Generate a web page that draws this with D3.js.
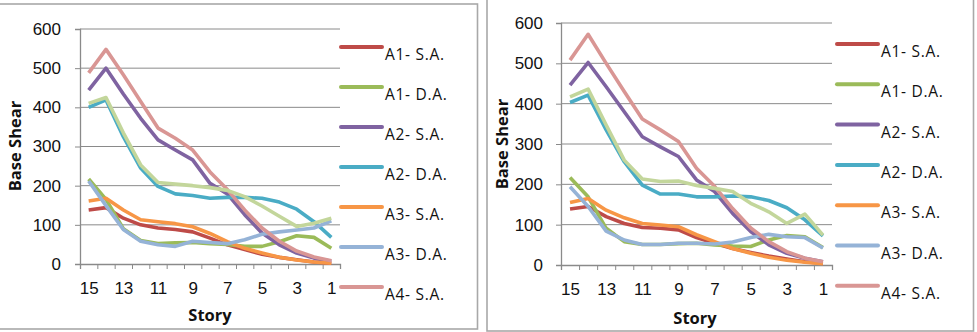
<!DOCTYPE html>
<html>
<head>
<meta charset="utf-8">
<script src="https://cdn.jsdelivr.net/npm/d3@7"></script>
<style>
  body { margin: 0; background: #fff; }
  svg { display: block; font-family: "Open Sans", sans-serif; }
</style>
</head>
<body>
<svg id="chart" width="977" height="332"></svg>
<script>
// stories, top to bottom as on the x axis
const stories = [15, 14, 13, 12, 11, 10, 9, 8, 7, 6, 5, 4, 3, 2, 1];
const yTicks = [0, 100, 200, 300, 400, 500, 600];
const seriesNames = ["A1- S.A.", "A1- D.A.", "A2- S.A.", "A2- D.A.", "A3- S.A.", "A3- D.A.", "A4- S.A.", "A4- D.A."];
const seriesColors = ["#be4b48", "#9bbb59", "#7f63a1", "#4aacc5", "#f79646", "#95b3d7", "#d99694", "#c3d69b"];

// left panel
const a1saL = [138, 144, 117, 100, 92, 88, 82, 66, 49, 37, 25, 17, 11, 5, 2];
const a1daL = [217, 165, 90, 60, 52, 54, 55, 52, 50, 45, 45, 57, 72, 68, 40];
const a2saL = [444, 500, 434, 372, 317, 291, 266, 206, 179, 126, 79, 49, 28, 15, 7];
const a2daL = [400, 419, 325, 245, 198, 179, 175, 168, 170, 170, 168, 158, 140, 108, 68];
const a3saL = [161, 168, 138, 113, 108, 103, 95, 78, 57, 40, 28, 17, 10, 5, 2];
const a3daL = [212, 149, 88, 58, 49, 45, 58, 55, 52, 62, 76, 82, 87, 92, 110];
const a4saL = [488, 548, 483, 415, 347, 321, 291, 235, 190, 138, 92, 58, 33, 18, 8];
const a4daL = [410, 425, 335, 253, 208, 204, 200, 195, 188, 172, 148, 122, 96, 104, 117];

// right panel
const a1saR = [139, 145, 120, 103, 93, 91, 87, 68, 54, 41, 31, 22, 15, 8, 4];
const a1daR = [217, 169, 91, 58, 51, 51, 53, 54, 50, 47, 46, 62, 73, 70, 43];
const a2saR = [446, 502, 442, 380, 318, 293, 269, 211, 182, 128, 83, 50, 29, 17, 8];
const a2daR = [403, 421, 335, 256, 198, 176, 176, 169, 169, 171, 169, 160, 142, 112, 72];
const a3saR = [155, 165, 136, 117, 103, 99, 95, 75, 58, 41, 29, 19, 12, 7, 3];
const a3daR = [194, 145, 84, 62, 51, 51, 54, 54, 52, 57, 68, 76, 70, 68, 42];
const a4saR = [508, 572, 500, 430, 362, 335, 306, 240, 195, 140, 92, 58, 33, 17, 8];
const a4daR = [417, 436, 347, 260, 213, 207, 208, 197, 190, 182, 153, 132, 103, 126, 74];

const svg = d3.select("#chart");

function drawPanel(panel) {
  const g = svg.append("g");

  g.append("rect")
    .attr("x", panel.frame[0]).attr("y", panel.frame[1])
    .attr("width", panel.frame[2]).attr("height", panel.frame[3])
    .attr("fill", "#fff")
    .attr("stroke", "#a8a8a8")
    .attr("stroke-width", 1.6);

  const x = d3.scalePoint().domain(stories).range([panel.left + panel.band / 2, panel.right - panel.band / 2]);
  const xEdge = d3.scaleLinear().domain([0, stories.length]).range([panel.left, panel.right]);
  const y = d3.scaleLinear().domain([0, 600]).range([panel.bottom, panel.top]);

  // gridlines
  g.append("g")
    .selectAll("line")
    .data(yTicks.slice(1))
    .enter()
      .append("line")
      .attr("x1", panel.left).attr("x2", panel.right)
      .attr("y1", d => y(d)).attr("y2", d => y(d))
      .attr("stroke", "#8a8a8a")
      .attr("stroke-width", 1);

  // y axis
  const yAxis = g.append("g")
    .attr("transform", `translate(${panel.left},0)`)
    .call(d3.axisLeft(y).tickValues(yTicks).tickSize(5).tickPadding(panel.yPad));
  yAxis.select(".domain").attr("stroke", "#8a8a8a").attr("stroke-width", 1.3);
  yAxis.selectAll(".tick line").attr("stroke", "#8a8a8a");
  yAxis.selectAll("text").attr("font-size", 17).attr("fill", "#111");

  // x axis: tick marks at category edges, labels at centres
  const xTickAxis = g.append("g")
    .attr("transform", `translate(0,${panel.bottom})`)
    .call(d3.axisBottom(xEdge).tickValues(d3.range(stories.length + 1)).tickSize(5).tickFormat(""));
  xTickAxis.select(".domain").attr("stroke", "#8a8a8a").attr("stroke-width", 1.3);
  xTickAxis.selectAll(".tick line").attr("stroke", "#8a8a8a");

  const xLabelAxis = g.append("g")
    .attr("transform", `translate(0,${panel.bottom})`)
    .call(d3.axisBottom(x).tickValues(stories.filter(s => s % 2 === 1)).tickSize(0).tickPadding(18));
  xLabelAxis.select(".domain").remove();
  xLabelAxis.selectAll("text").attr("font-size", 17).attr("fill", "#111");

  // axis titles
  g.append("text")
    .attr("transform", `translate(${panel.yTitleX},${panel.yTitleY}) rotate(-90)`)
    .attr("text-anchor", "middle")
    .attr("font-size", 16.5)
    .attr("font-weight", "bold")
    .attr("fill", "#111")
    .text("Base Shear");

  g.append("text")
    .attr("x", panel.xTitleX).attr("y", panel.xTitleY)
    .attr("text-anchor", "middle")
    .attr("font-size", 16.5)
    .attr("font-weight", "bold")
    .attr("fill", "#111")
    .text("Story");

  // series lines
  const line = d3.line()
    .x((d, i) => x(stories[i]))
    .y(d => y(d));

  g.append("g")
    .selectAll("path")
    .data(panel.series)
    .enter()
      .append("path")
      .attr("d", d => line(d))
      .attr("fill", "none")
      .attr("stroke", (d, i) => seriesColors[i])
      .attr("stroke-width", 3.6)
      .attr("stroke-linejoin", "round");

  // legend (only the entries that fit inside the frame)
  const legendRows = seriesNames
    .map((name, i) => ({ name, color: seriesColors[i], y: panel.legendY + i * panel.legendStep }))
    .filter(d => d.y + 12 < panel.frame[1] + panel.frame[3]);

  const legend = g.append("g")
    .selectAll("g")
    .data(legendRows)
    .enter()
      .append("g");

  legend.append("line")
    .attr("x1", panel.legendX).attr("x2", panel.legendX + 41)
    .attr("y1", d => d.y).attr("y2", d => d.y)
    .attr("stroke", d => d.color)
    .attr("stroke-width", 4)
    .attr("stroke-linecap", "round");

  legend.append("text")
    .attr("x", panel.legendX + 44)
    .attr("y", d => d.y + 13)
    .attr("font-size", 15.5)
    .attr("letter-spacing", 0.7)
    .attr("fill", "#111")
    .text(d => d.name);
}

drawPanel({
  frame: [-2, 4, 479.5, 325],
  left: 80, right: 340, top: 29, bottom: 264, band: 260 / 15,
  yPad: 14, yTitleX: 21, yTitleY: 146, xTitleX: 210, xTitleY: 321,
  legendX: 341, legendY: 47, legendStep: 40,
  series: [a1saL, a1daL, a2saL, a2daL, a3saL, a3daL, a4saL, a4daL]
});

drawPanel({
  frame: [487, -2, 486.5, 333],
  left: 561, right: 832, top: 23, bottom: 265, band: 271 / 15,
  yPad: 13, yTitleX: 508, yTitleY: 144, xTitleX: 695, xTitleY: 324,
  legendX: 837, legendY: 44, legendStep: 40.3,
  series: [a1saR, a1daR, a2saR, a2daR, a3saR, a3daR, a4saR, a4daR]
});
</script>
</body>
</html>
